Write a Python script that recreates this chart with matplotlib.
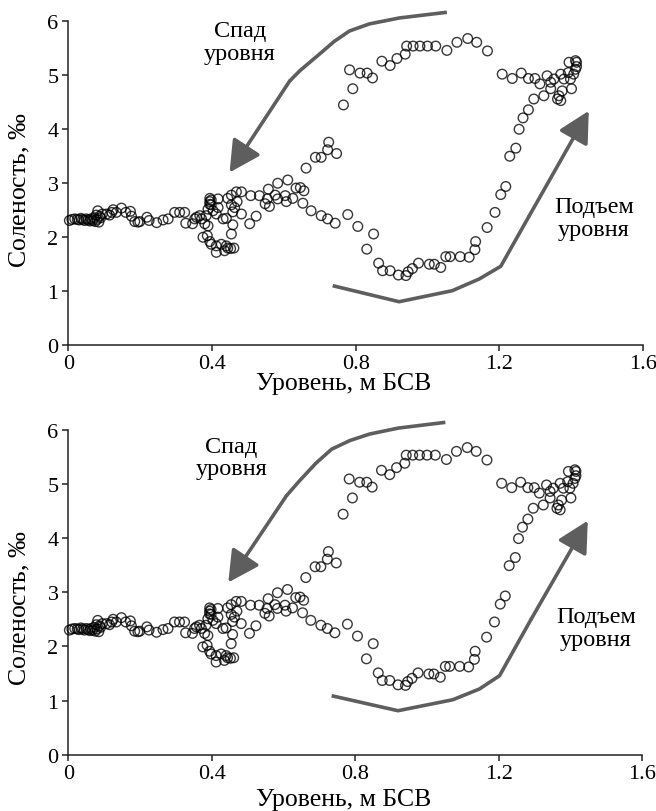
import matplotlib
matplotlib.use('Agg')
import matplotlib.pyplot as plt

plt.rcParams['font.family'] = ['Liberation Serif', 'DejaVu Serif']
plt.rcParams['mathtext.fontset'] = 'custom'
plt.rcParams['mathtext.it'] = 'Liberation Serif:italic'
plt.rcParams['mathtext.rm'] = 'Liberation Serif'

# ---- data: level (m BSV) and salinity (permille) ----
level = [
    0.003, 0.010, 0.018, 0.025, 0.030, 0.035, 0.040, 0.045, 0.050, 0.055,
    0.060, 0.063, 0.068, 0.072, 0.075, 0.078, 0.080, 0.082, 0.085, 0.087,
    0.090, 0.095, 0.107, 0.115, 0.121, 0.125, 0.134, 0.148, 0.160, 0.173,
    0.176, 0.185, 0.194, 0.199, 0.219, 0.225, 0.246, 0.264, 0.278, 0.296,
    0.310, 0.324, 0.327, 0.346, 0.352, 0.366, 0.371, 0.357, 0.380, 0.384,
    0.389, 0.389, 0.394, 0.394, 0.398, 0.403, 0.394, 0.398, 0.412, 0.417,
    0.417, 0.375, 0.387, 0.394, 0.398, 0.412, 0.426, 0.440, 0.444, 0.461,
    0.412, 0.435, 0.452, 0.431, 0.440, 0.454, 0.458, 0.482, 0.523, 0.505,
    0.458, 0.454, 0.444, 0.454, 0.468, 0.482, 0.508, 0.532, 0.548, 0.554,
    0.557, 0.560, 0.576, 0.583, 0.583, 0.604, 0.607, 0.611, 0.625, 0.634,
    0.646, 0.653, 0.656, 0.676, 0.704, 0.722, 0.743, 0.662, 0.688, 0.704,
    0.722, 0.725, 0.747, 0.463, 0.470,
    0.778, 0.806, 0.850, 0.831, 0.864, 0.875, 0.896, 0.919, 0.940, 0.946,
    0.958, 0.975, 1.005, 1.019, 1.037, 1.051, 1.063, 1.091, 1.116, 1.132,
    1.134, 1.166, 1.188, 1.204, 1.218, 1.229, 1.246, 1.255, 1.266, 1.281,
    1.296,
    1.324, 1.343, 1.366, 1.371, 1.375, 1.401, 1.208, 1.236, 1.261, 1.281,
    1.299, 1.313, 1.333, 1.343, 1.352, 1.371, 1.380, 1.392, 1.398, 1.407,
    1.412, 1.415, 1.394, 1.412, 1.415, 1.362,
    1.167, 1.137, 1.112, 1.082, 1.054, 1.023, 1.000, 0.979, 0.960, 0.942,
    0.938, 0.915, 0.896, 0.873, 0.847, 0.832, 0.812, 0.783, 0.792, 0.766,
]
salinity = [
    2.30, 2.32, 2.33, 2.32, 2.31, 2.34, 2.32, 2.30, 2.33, 2.31,
    2.29, 2.33, 2.30, 2.35, 2.28, 2.40, 2.32, 2.48, 2.27, 2.38,
    2.35, 2.42, 2.42, 2.40, 2.45, 2.50, 2.45, 2.53, 2.45, 2.47,
    2.38, 2.28, 2.27, 2.28, 2.36, 2.30, 2.26, 2.31, 2.33, 2.45,
    2.45, 2.45, 2.25, 2.24, 2.33, 2.39, 2.33, 2.36, 2.24, 2.39,
    2.20, 2.51, 2.71, 2.65, 2.59, 2.48, 2.60, 2.68, 2.42, 2.70,
    2.54, 1.99, 2.02, 1.91, 1.86, 1.83, 1.86, 1.83, 1.79, 1.79,
    1.71, 1.74, 1.78, 2.33, 2.34, 2.59, 2.46, 2.42, 2.38, 2.24,
    2.22, 2.05, 2.71, 2.77, 2.83, 2.83, 2.76, 2.76, 2.61, 2.70,
    2.88, 2.56, 2.77, 2.70, 2.99, 2.76, 2.65, 3.05, 2.71, 2.90,
    2.91, 2.62, 2.85, 2.48, 2.39, 2.33, 2.25, 3.27, 3.47, 3.47,
    3.61, 3.75, 3.54, 2.54, 2.65,
    2.41, 2.19, 2.05, 1.77, 1.51, 1.37, 1.37, 1.29, 1.28, 1.35,
    1.41, 1.51, 1.49, 1.49, 1.43, 1.63, 1.63, 1.63, 1.62, 1.76,
    1.91, 2.17, 2.45, 2.78, 2.93, 3.49, 3.64, 3.99, 4.20, 4.35,
    4.55,
    4.61, 4.74, 4.61, 4.52, 4.70, 4.74, 5.01, 4.93, 5.03, 4.93,
    4.93, 4.83, 4.98, 4.86, 4.92, 5.01, 4.92, 5.04, 4.92, 5.01,
    5.10, 5.23, 5.23, 5.26, 5.15, 4.55,
    5.44, 5.60, 5.67, 5.60, 5.45, 5.53, 5.53, 5.53, 5.53, 5.53,
    5.38, 5.30, 5.17, 5.25, 4.94, 5.03, 5.03, 5.09, 4.74, 4.44,
]

x_ticks = [0, 0.4, 0.8, 1.2, 1.6]
x_tick_labels = ['0', '0.4', '0.8', '1.2', '1.6']
y_ticks = [0, 1, 2, 3, 4, 5, 6]
y_tick_labels = ['0', '1', '2', '3', '4', '5', '6']

# guide arrows (level, salinity) per panel
fall_x_top = [1.054, 0.921, 0.838, 0.783, 0.741, 0.699, 0.644, 0.616, 0.449]
fall_y_top = [6.156, 6.05, 5.94, 5.81, 5.62, 5.38, 5.07, 4.88, 3.19]
rise_x_top = [0.736, 0.921, 1.069, 1.144, 1.204, 1.283, 1.449]
rise_y_top = [1.093, 0.796, 1.00, 1.217, 1.452, 2.383, 4.33]

fall_x_bot = [1.051, 0.920, 0.840, 0.785, 0.734, 0.690, 0.645, 0.608, 0.446]
fall_y_bot = [6.136, 6.03, 5.92, 5.80, 5.64, 5.38, 5.06, 4.78, 3.18]
rise_x_bot = [0.734, 0.919, 1.072, 1.146, 1.202, 1.29, 1.448]
rise_y_bot = [1.089, 0.812, 1.015, 1.213, 1.458, 2.5, 4.32]

fall_label = 'Спад\nуровня'
rise_label = 'Подъем\nуровня'
x_label = 'Уровень, м БСВ'
y_label = 'Соленость, $\\mathit{‰}$'

W, H = 656, 812
fig = plt.figure(figsize=(W / 100, H / 100), dpi=100)

ARROW_C = '#5e5e5e'
SPINE_C = '#222222'
FS = 16


def make_axes(l, r, t, b):
    return fig.add_axes([l / W, 1 - b / H, (r - l) / W, (b - t) / H])


def style(ax):
    ax.set_xlim(0, 1.6)
    ax.set_ylim(0, 6)
    for s in ('top', 'right'):
        ax.spines[s].set_visible(False)
    for s in ('left', 'bottom'):
        ax.spines[s].set_color(SPINE_C)
        ax.spines[s].set_linewidth(1.1)
    ax.set_xticks(x_ticks)
    ax.set_xticklabels(x_tick_labels)
    ax.set_yticks(y_ticks)
    ax.set_yticklabels(y_tick_labels)
    ax.tick_params(direction='out', length=4, width=1.1, color=SPINE_C,
                   labelsize=FS, pad=3)


def draw_arrow(ax, xs, ys):
    ax.plot(xs[:-1], ys[:-1], color=ARROW_C, lw=2.6, solid_capstyle='butt',
            solid_joinstyle='round', zorder=1, clip_on=False)
    ax.annotate('', xy=(xs[-1], ys[-1]), xytext=(xs[-2], ys[-2]),
                arrowprops=dict(arrowstyle='-|>,head_length=0.95,head_width=0.5',
                                mutation_scale=20, color=ARROW_C, lw=2.6,
                                shrinkA=0, shrinkB=0),
                zorder=1, annotation_clip=False)


panels = [
    (make_axes(68.3, 643.0, 21.7, 345.7), fall_x_top, fall_y_top, rise_x_top, rise_y_top,
     (0.477, 5.60), (1.463, 2.35), 190, 384),
    (make_axes(68.3, 642.3, 430.7, 755.7), fall_x_bot, fall_y_bot, rise_x_bot, rise_y_bot,
     (0.455, 5.49), (1.471, 2.34), 608, 800),
]

for ax, fx, fy, rx, ry, fpos, rpos, ylab_y, xlab_y in panels:
    style(ax)
    draw_arrow(ax, fx, fy)
    draw_arrow(ax, rx, ry)
    ax.scatter(level, salinity, s=48, facecolors='none',
               edgecolors=(0, 0, 0, 0.78), linewidths=1.0, zorder=3, clip_on=False)
    ax.text(fpos[0], fpos[1], fall_label, ha='center', va='center',
            fontsize=17.5, linespacing=1.1)
    ax.text(rpos[0], rpos[1], rise_label, ha='center', va='center',
            fontsize=17.5, linespacing=1.1)
    fig.text(20 / W, 1 - ylab_y / H, y_label, rotation=90, ha='center', va='center',
             fontsize=18.5)
    fig.text(344 / W, 1 - xlab_y / H, x_label, ha='center', va='center', fontsize=18.5)

fig.savefig('out.png', dpi=100)
